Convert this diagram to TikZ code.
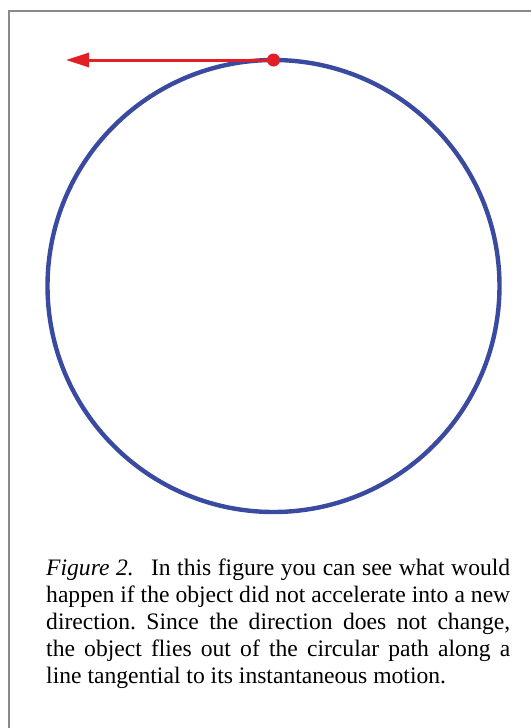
\documentclass[tikz,border=0pt]{standalone}
\usepackage{fontspec}
\setmainfont{Liberation Serif}
\usetikzlibrary{arrows.meta}
\definecolor{ringblue}{RGB}{58,74,160}
\definecolor{arrowred}{RGB}{227,30,37}
\definecolor{framegray}{RGB}{138,138,138}
\tikzset{
  ring/.style={circle, draw=ringblue, line width=4.4pt, minimum size=452pt, inner sep=0pt, outer sep=0pt},
  dotmark/.style={circle, fill=arrowred, minimum size=13pt, inner sep=0pt},
  motion/.style={draw=arrowred, line width=3pt, -{Triangle[length=23pt,width=14pt]}},
  framing/.style={draw=framegray, line width=1.6pt},
  caption/.style={anchor=north west, inner sep=0pt, text width=464pt, align=justify,
    font=\fontsize{23.6}{27}\selectfont\frenchspacing}
}
\begin{document}
\begin{tikzpicture}[x=1pt,y=-1pt]
\useasboundingbox (0,0) rectangle (530,728);
\coordinate (fr1) at (531,11);
\coordinate (fr2) at (9,11);
\coordinate (fr3) at (9,729);
\draw[framing] (fr1) -- (fr2) -- (fr3);
\node[ring] (c) at (273.5,286) {};
\node[dotmark] (dot) at (c.north) {};
\coordinate (tip) at (66,60);
\draw[motion] (dot.center) -- (tip);
\node[caption] (cap) at (46,559) {\textit{Figure 2.}\hspace{0.45em} In this figure you can see what would\linebreak
happen if the object did not accelerate into a new\linebreak
direction. Since the direction does not change,\linebreak
the object flies out of the circular path along a\linebreak
line tangential to its instantaneous motion.};
\end{tikzpicture}
\end{document}
